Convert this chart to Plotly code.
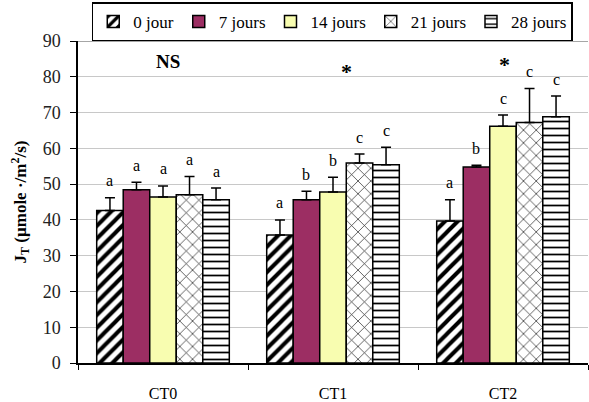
import plotly.graph_objects as go

# Treatments and sampling days
categories = ["CT0", "CT1", "CT2"]
series_names = ["0 jour", "7 jours", "14 jours", "21 jours", "28 jours"]

# Mean JT per treatment for each day
means = {
    "0 jour":   [42.6, 35.8, 39.7],
    "7 jours":  [48.4, 45.6, 54.8],
    "14 jours": [46.4, 47.8, 66.2],
    "21 jours": [47.0, 55.9, 67.2],
    "28 jours": [45.6, 55.4, 68.8],
}
# Standard deviations (upper whiskers)
errors = {
    "0 jour":   [3.6, 4.2, 5.9],
    "7 jours":  [2.1, 2.4, 0.5],
    "14 jours": [3.1, 4.1, 3.1],
    "21 jours": [5.1, 2.5, 9.5],
    "28 jours": [3.3, 4.9, 5.8],
}
# Significance letters per bar
letters = {
    "0 jour":   ["a", "a", "a"],
    "7 jours":  ["a", "b", "b"],
    "14 jours": ["a", "b", "c"],
    "21 jours": ["a", "c", "c"],
    "28 jours": ["a", "c", "c"],
}
# Group-level test result
group_marks = ["NS", "*", "*"]

y_ticks = list(range(0, 100, 10))

SERIF = "Liberation Serif, Times New Roman, serif"

styles = {
    "0 jour":   dict(color="white", pattern=dict(shape="/", fgcolor="black", fgopacity=1, bgcolor="white", size=9, solidity=0.45, fillmode="overlay")),
    "7 jours":  dict(color="#9C2E63"),
    "14 jours": dict(color="#F8FDB0"),
    "21 jours": dict(color="white", pattern=dict(shape="x", fgcolor="#222222", fgopacity=1, bgcolor="white", size=9, solidity=0.15, fillmode="overlay")),
    "28 jours": dict(color="white", pattern=dict(shape="-", fgcolor="black", fgopacity=1, bgcolor="white", size=7, solidity=0.25, fillmode="overlay")),
}

fig = go.Figure()
for name in series_names:
    st = styles[name]
    marker = dict(color=st["color"], line=dict(color="black", width=1.5))
    if "pattern" in st:
        marker["pattern"] = st["pattern"]
    fig.add_trace(go.Bar(
        name=name,
        x=categories,
        y=means[name],
        marker=marker,
        error_y=dict(type="data", array=errors[name], arrayminus=[0] * len(categories),
                     symmetric=False, color="black", thickness=1.5, width=5),
        offsetgroup=name,
    ))

# Letters above each whisker, placed via the bar layout
n = len(series_names)
group_frac = 0.78
bar_w = group_frac / n
annotations = []
for i, name in enumerate(series_names):
    for j, cat in enumerate(categories):
        xc = j - group_frac / 2 + bar_w * (i + 0.5)
        annotations.append(dict(
            x=xc, y=means[name][j] + errors[name][j], xref="x", yref="y",
            text=letters[name][j], showarrow=False, yshift=17,
            font=dict(family=SERIF, size=16, color="black"),
        ))

mark_offsets = [0.03, 0.08, 0.01]
mark_heights = [84.2, 81.5, 83.5]
for j, m in enumerate(group_marks):
    annotations.append(dict(
        x=j + mark_offsets[j], y=mark_heights[j], xref="x", yref="y",
        text="<b>%s</b>" % m, showarrow=False,
        font=dict(family=SERIF, size=19 if m == "NS" else 22, color="black"),
    ))

fig.update_layout(
    width=589, height=402,
    margin=dict(l=78, r=1, t=41, b=39),
    paper_bgcolor="white", plot_bgcolor="white",
    barmode="group", bargap=0.22, bargroupgap=0,
    showlegend=True,
    legend=dict(
        orientation="h", x=0.027, y=1.12, xanchor="left", yanchor="top",
        font=dict(family=SERIF, size=17, color="black"),
        bordercolor="black", borderwidth=1.5, bgcolor="white",
        itemwidth=30, tracegroupgap=0,
    ),
    annotations=annotations,
    font=dict(family=SERIF, color="black"),
)

fig.update_xaxes(
    type="category", tickson="boundaries", ticks="outside", ticklen=5,
    tickcolor="black", showline=True, linecolor="black", linewidth=1.5,
    tickfont=dict(family=SERIF, size=16, color="black"),
    ticklabelstandoff=15, showgrid=False,
)
fig.update_yaxes(
    range=[0, 90], tickvals=y_ticks, ticks="outside", ticklen=6,
    tickcolor="black", showline=True, linecolor="black", linewidth=1.5,
    showgrid=True, gridcolor="#C8C8C8", gridwidth=1,
    tickfont=dict(family=SERIF, size=18, color="#222222"),
    ticklabelstandoff=6,
    zeroline=False,
    title=dict(text="<b>J<sub>T</sub> (µmole ·/m<sup>2</sup>/s)</b>",
               font=dict(family=SERIF, size=17, color="black"), standoff=12),
)

# Top frame line of the plot area
fig.add_shape(type="line", xref="paper", yref="y", x0=0, x1=1, y0=90, y1=90,
              line=dict(color="#888888", width=1.5))

fig.write_html("out.html")
